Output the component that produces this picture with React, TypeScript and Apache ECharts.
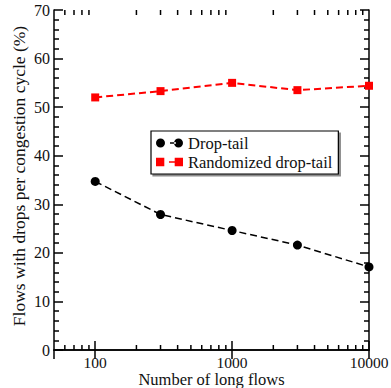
import React, { useEffect, useRef } from "react";
import * as echarts from "echarts";

const FLOWS = [100, 300, 1000, 3000, 10000];
const DROP_TAIL = [34.7, 27.9, 24.6, 21.6, 17.1];
const RANDOMIZED = [52.0, 53.3, 55.0, 53.5, 54.4];
const X_MAJOR_TICKS = [100, 1000, 10000];
const X_MINOR_TICKS = [60, 70, 80, 90, 200, 300, 400, 500, 600, 700, 800, 900, 2000, 3000, 4000, 5000, 6000, 7000, 8000, 9000];
const SERIES_NAMES = ["Drop-tail", "Randomized drop-tail"];

const FONT = "Liberation Serif";

const ICON_CIRCLES =
  "path://M0,4.5a4.5,4.5 0 1,0 9,0a4.5,4.5 0 1,0 -9,0Z M14,3.75h6v1.5h-6Z M18,4.5a4.5,4.5 0 1,0 9,0a4.5,4.5 0 1,0 -9,0Z";
const ICON_SQUARES =
  "path://M0.5,0.5h8v8h-8Z M13,3.75h6v1.5h-6Z M18.5,0.5h8v8h-8Z";

export default function App() {
  const ref = useRef<HTMLDivElement>(null);
  useEffect(() => {
    if (!ref.current) return;
    const chart = echarts.init(ref.current, undefined, { renderer: "svg" });
    const axisLine = { show: true, lineStyle: { color: "#000", width: 1.5 } };
    const xCommon = {
      type: "log" as const,
      logBase: 10,
      min: 50,
      max: 10000,
      axisLine,
      splitLine: { show: false },
      axisTick: { show: true, inside: true, length: 9, lineStyle: { color: "#000", width: 1.5 } },
    };
    const yCommon = {
      type: "value" as const,
      min: 0,
      max: 70,
      interval: 10,
      axisLine,
      splitLine: { show: false },
      axisTick: { show: true, inside: true, length: 9, lineStyle: { color: "#000", width: 1.5 } },
      minorTick: { show: true, splitNumber: 5, length: 5, lineStyle: { color: "#000", width: 1.5 } },
    };
    chart.setOption({
      animation: false,
      backgroundColor: "#fff",
      textStyle: { fontFamily: FONT },
      grid: { left: 54, top: 10, right: 22, bottom: 38, containLabel: false, outerBoundsMode: "none" },
      xAxis: [
        {
          ...xCommon,
          position: "bottom",
          name: "Number of long flows",
          nameLocation: "middle",
          nameGap: 21,
          nameMoveOverlap: false,
          nameTextStyle: { fontFamily: FONT, fontSize: 16.5, color: "#111", lineHeight: 16 },
          axisLabel: {
            show: true,
            fontFamily: FONT,
            fontSize: 15.5,
            lineHeight: 15,
            color: "#111",
            margin: 5,
            showMinLabel: false,
            formatter: (v: number) => {
              const r = Math.round(v);
              return X_MAJOR_TICKS.includes(r) ? String(r) : "";
            },
          },
        },
        {
          ...xCommon,
          position: "top",
          axisLabel: { show: false },
        },
      ],
      yAxis: [
        {
          ...yCommon,
          position: "left",
          name: "Flows with drops per congestion cycle (%)",
          nameLocation: "middle",
          nameGap: 26,
          nameMoveOverlap: false,
          nameTextStyle: { fontFamily: FONT, fontSize: 17.5, color: "#111", padding: [0, 0, 0, 8] },
          axisLabel: { show: true, fontFamily: FONT, fontSize: 16, color: "#111", margin: 4 },
        },
        {
          ...yCommon,
          position: "right",
          axisLabel: { show: false },
        },
      ],
      legend: {
        data: [
          { name: SERIES_NAMES[0], icon: ICON_CIRCLES },
          { name: SERIES_NAMES[1], icon: ICON_SQUARES },
        ],
        orient: "vertical",
        left: 151,
        top: 131,
        padding: [3, 6, 3, 5],
        itemWidth: 27,
        itemHeight: 9,
        itemGap: 1,
        backgroundColor: "#fff",
        borderColor: "#000",
        borderWidth: 1.2,
        borderRadius: 0,
        shadowColor: "rgba(0,0,0,0.45)",
        shadowBlur: 1,
        shadowOffsetX: 2,
        shadowOffsetY: 2,
        textStyle: { fontFamily: FONT, fontSize: 16.5, color: "#111", lineHeight: 18 },
        selectedMode: false,
      },
      series: [
        {
          name: SERIES_NAMES[0],
          type: "line",
          xAxisIndex: 0,
          yAxisIndex: 0,
          data: FLOWS.map((x, i) => [x, DROP_TAIL[i]]),
          symbol: "circle",
          symbolSize: 9,
          itemStyle: { color: "#000" },
          lineStyle: { color: "#000", width: 1.5, type: [7, 4] },
          z: 3,
        },
        {
          name: SERIES_NAMES[1],
          type: "line",
          xAxisIndex: 0,
          yAxisIndex: 0,
          data: FLOWS.map((x, i) => [x, RANDOMIZED[i]]),
          symbol: "rect",
          symbolSize: 8,
          itemStyle: { color: "#ff0000" },
          lineStyle: { color: "#ff0000", width: 2, type: [7, 4] },
          z: 3,
        },
        {
          name: "minor-x-ticks",
          type: "custom",
          xAxisIndex: 0,
          yAxisIndex: 0,
          silent: true,
          clip: false,
          data: X_MINOR_TICKS.map((v) => [v, 0]),
          renderItem: (params: any, api: any) => {
            const x = api.value(0);
            const pb = api.coord([x, 0]);
            const pt = api.coord([x, 70]);
            const style = { stroke: "#000", lineWidth: 1.5 };
            return {
              type: "group",
              children: [
                { type: "line", shape: { x1: pb[0], y1: pb[1], x2: pb[0], y2: pb[1] - 5 }, style },
                { type: "line", shape: { x1: pt[0], y1: pt[1], x2: pt[0], y2: pt[1] + 5 }, style },
              ],
            };
          },
          z: 1,
        },
      ],
    });
    return () => chart.dispose();
  }, []);
  return (
    <div
      ref={ref}
      style={{ position: "absolute", left: 0, top: 0, width: 391, height: 388 }}
    />
  );
}
